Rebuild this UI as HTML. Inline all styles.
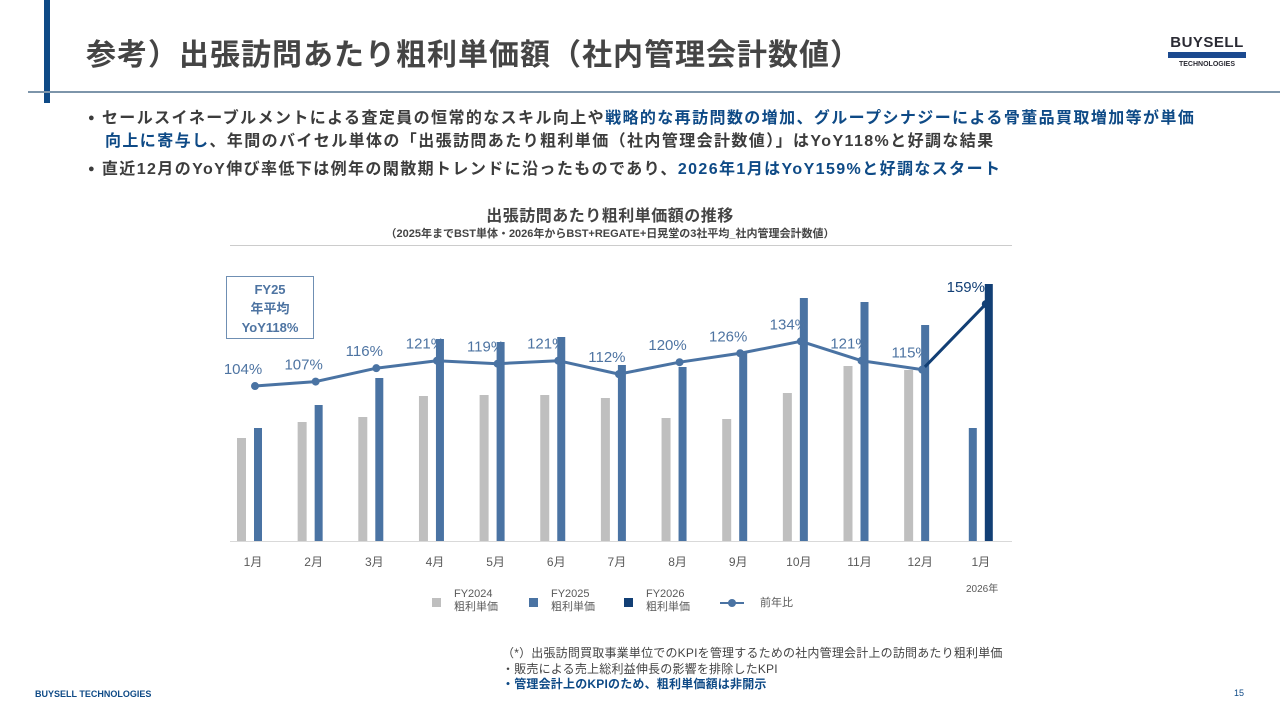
<!DOCTYPE html>
<html><head><meta charset="utf-8">
<style>
body{margin:0;width:1280px;height:720px;background:#fff;position:relative;overflow:hidden;font-family:"Liberation Sans","Noto Sans CJK JP",sans-serif;}
.abs{position:absolute;}
.b{color:#0e4a86;}
</style></head><body>
<div class="abs" style="left:44px;top:0;width:6px;height:103px;background:#0e4a86"></div>
<div class="abs" style="left:28px;top:91px;width:1252px;height:2px;background:#7d95aa"></div>
<div class="abs" style="left:86px;top:30px;font-size:30px;font-weight:bold;color:#454545;white-space:nowrap;letter-spacing:1px">参考）出張訪問あたり粗利単価額（社内管理会計数値）</div>
<div class="abs" style="left:1168px;top:35px;width:78px;text-align:center">
 <div style="font-size:15px;font-weight:bold;color:#2a2a33;line-height:16px;letter-spacing:0.5px">BUYSELL</div>
 <div style="height:6px;background:#1c4a8f;margin:1px 0 3px"></div>
 <div style="font-size:7px;font-weight:bold;color:#2a2a33;line-height:8px">TECHNOLOGIES</div>
</div>
<div class="abs" style="left:88px;top:108px;font-size:16px;font-weight:bold;color:#3c3c3c;line-height:22px;white-space:nowrap;letter-spacing:1.4px">
 <div><span style="font-size:11px;position:relative;top:-2px">●</span> セールスイネーブルメントによる査定員の恒常的なスキル向上や<span class="b">戦略的な再訪問数の増加、グループシナジーによる骨董品買取増加等が単価</span></div>
 <div style="padding-left:17px"><span class="b">向上に寄与し</span>、年間のバイセル単体の「出張訪問あたり粗利単価（社内管理会計数値）」はYoY118%と好調な結果</div>
 <div style="margin-top:6px"><span style="font-size:11px;position:relative;top:-2px">●</span> 直近12月のYoY伸び率低下は例年の閑散期トレンドに沿ったものであり、<span class="b">2026年1月はYoY159%と好調なスタート</span></div>
</div>
<div class="abs" style="left:400px;top:202px;width:420px;text-align:center;font-size:16px;font-weight:bold;color:#444;letter-spacing:0.5px">出張訪問あたり粗利単価額の推移</div>
<div class="abs" style="left:300px;top:225px;width:620px;text-align:center;font-size:11px;font-weight:bold;color:#444">（2025年までBST単体・2026年からBST+REGATE+日晃堂の3社平均_社内管理会計数値）</div>
<div class="abs" style="left:230px;top:245px;width:782px;height:1px;background:#ccc"></div>
<div class="abs" style="left:226px;top:276px;width:88px;height:63px;border:1px solid #6f8fb3;box-sizing:border-box;text-align:center;font-size:13px;font-weight:bold;color:#4e74a2;line-height:19px;padding-top:3px">FY25<br>年平均<br>YoY118%</div>
<svg class="abs" style="left:0;top:0" width="1280" height="720" id="chart"></svg>
<div class="abs" style="left:432px;top:588px;font-size:11px;color:#595959;line-height:13px">
 <div class="abs" style="left:0;top:0;width:100px"><span class="abs" style="left:0;top:10px;width:9px;height:9px;background:#bfbfbf"></span><span class="abs" style="left:22px;top:0;white-space:nowrap">FY2024<br>粗利単価</span></div>
 <div class="abs" style="left:97px;top:0;width:100px"><span class="abs" style="left:0;top:10px;width:9px;height:9px;background:#4a73a3"></span><span class="abs" style="left:22px;top:0;white-space:nowrap">FY2025<br>粗利単価</span></div>
 <div class="abs" style="left:192px;top:0;width:100px"><span class="abs" style="left:0;top:10px;width:9px;height:9px;background:#123f75"></span><span class="abs" style="left:22px;top:0;white-space:nowrap">FY2026<br>粗利単価</span></div>
 <div class="abs" style="left:288px;top:0;width:100px"><span class="abs" style="left:0;top:14px;width:24px;height:2px;background:#4a73a3"></span><span class="abs" style="left:8px;top:11px;width:8px;height:8px;border-radius:50%;background:#4a73a3"></span><span class="abs" style="left:40px;top:9px;white-space:nowrap">前年比</span></div>
</div>
<div class="abs" style="left:966px;top:580px;font-size:10px;color:#595959">2026年</div>
<div class="abs" style="left:502px;top:646px;font-size:12px;color:#444;line-height:15.5px;white-space:nowrap;letter-spacing:0.2px">
 <div>（*）出張訪問買取事業単位でのKPIを管理するための社内管理会計上の訪問あたり粗利単価</div>
 <div>・販売による売上総利益伸長の影響を排除したKPI</div>
 <div class="b" style="font-weight:bold">・管理会計上のKPIのため、粗利単価額は非開示</div>
</div>
<div class="abs" style="left:35px;top:689px;font-size:9px;font-weight:bold;color:#0e4a86">BUYSELL TECHNOLOGIES</div>
<div class="abs" style="left:1234px;top:688px;font-size:9px;color:#0e4a86">15</div>
<script>
const months=["1月","2月","3月","4月","5月","6月","7月","8月","9月","10月","11月","12月","1月"];
const fy24=[103,119,124,145,146,146,143,123,122,148,175,171];
const fy25=[113,136,163,202,199,204,176,174,189,243,239,216,113];
const fy26=[257];
const yoy=[104,107,116,121,119,121,112,120,126,134,121,115,159];
const yoyLabels=["104%","107%","116%","121%","119%","121%","112%","120%","126%","134%","121%","115%","159%"];
const svg=document.getElementById('chart');
const NS="http://www.w3.org/2000/svg";
const base=541;
const xC=i=>253+i*60.65;
const yBar=v=>base-v;
const yLine=v=>base-v*1.49;
function mk(t,a){const e=document.createElementNS(NS,t);for(const k in a)e.setAttribute(k,a[k]);svg.appendChild(e);return e;}
const ax=mk('line',{x1:230,x2:1012,y1:base+0.5,y2:base+0.5,stroke:'#d9d9d9','stroke-width':1});


fy24.forEach((v,i)=>{const r=mk('rect',{x:xC(i)-16,y:yBar(v),width:9,height:v,fill:'#bfbfbf'});

});
fy25.forEach((v,i)=>{const x=i<12?xC(i)+1:xC(i)-12;const r=mk('rect',{x:x,y:yBar(v),width:8,height:v,fill:'#4a73a3'});

});
fy26.forEach((v,j)=>{const r=mk('rect',{x:xC(12)+4,y:yBar(v),width:8,height:v,fill:'#123f75'});

});
const px=i=>i<12?xC(i)+2:xC(i)+5;
let d='';yoy.slice(0,12).forEach((v,i)=>{d+=(i?'L':'M')+px(i)+' '+yLine(v);});
const ln=mk('path',{d:d,fill:'none',stroke:'#4a73a3','stroke-width':3,'stroke-linejoin':'round'});


const ln2=mk('line',{x1:px(11),y1:yLine(yoy[11]),x2:px(12),y2:yLine(yoy[12]),stroke:'#123f75','stroke-width':3});


yoy.forEach((v,i)=>{const c=mk('circle',{cx:px(i),cy:yLine(v),r:4,fill:i<12?'#4a73a3':'#123f75'});


const t=mk('text',{x:px(i)-(i==12?20:12),y:yLine(v)-12,'text-anchor':'middle','font-size':15,fill:i<12?'#4e74a2':'#123f75','font-family':'Liberation Sans, sans-serif'});t.textContent=yoyLabels[i];

});
months.forEach((m,i)=>{const t=mk('text',{x:xC(i),y:566,'text-anchor':'middle','font-size':12,fill:'#595959','font-family':'Liberation Sans, Noto Sans CJK JP, sans-serif'});t.textContent=m;

});
</script>
</body></html>
